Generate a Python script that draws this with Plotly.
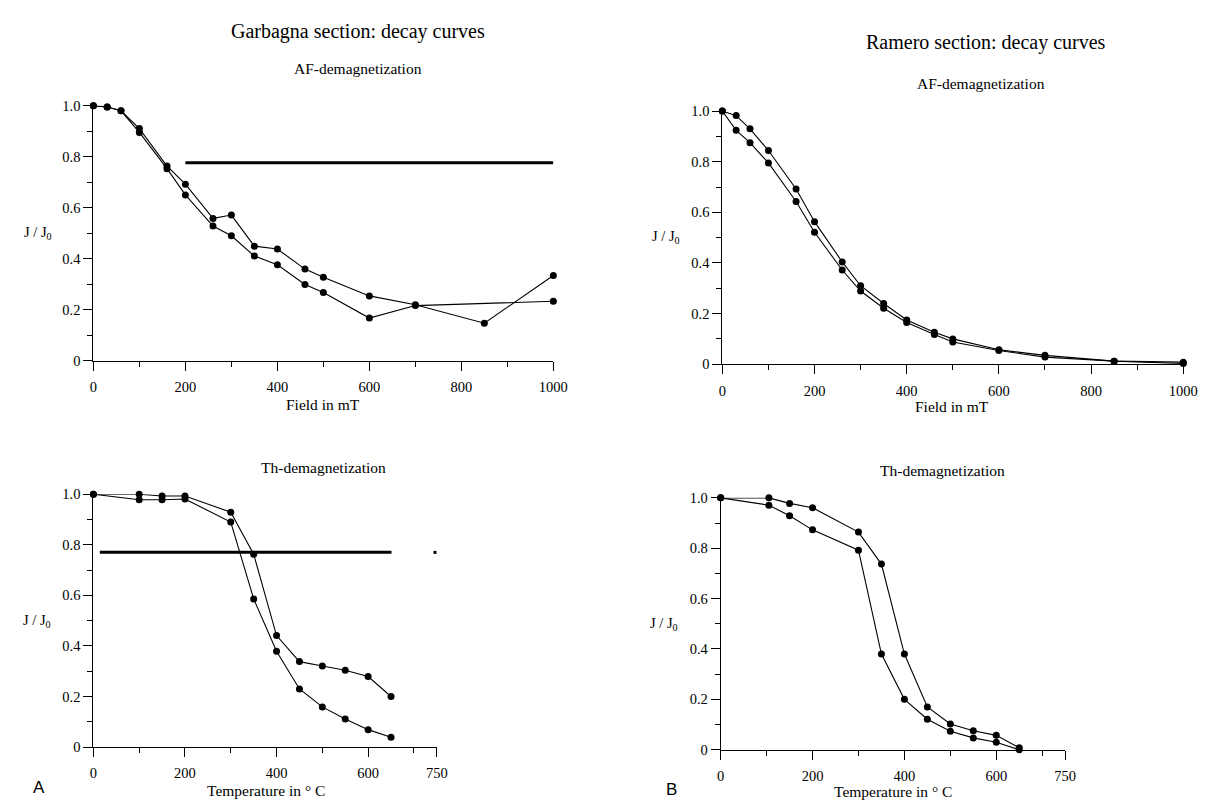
import plotly.graph_objects as go

# ---------------- data ----------------
# Garbagna AF
g_af_x1 = [0, 30, 60, 100, 160, 200, 260, 300, 350, 400, 460, 500, 600, 700, 850, 1000]
g_af_y1 = [1.0, 0.995, 0.98, 0.91, 0.763, 0.692, 0.558, 0.571, 0.449, 0.438, 0.359, 0.327, 0.254, 0.219, 0.147, 0.334]
g_af_x2 = [0, 30, 60, 100, 160, 200, 260, 300, 350, 400, 460, 500, 600, 700, 1000]
g_af_y2 = [1.0, 0.995, 0.98, 0.895, 0.753, 0.65, 0.528, 0.49, 0.41, 0.376, 0.299, 0.267, 0.167, 0.216, 0.233]
g_af_bar_x = [200, 1000]
g_af_bar_y = [0.776, 0.776]

# Garbagna Th
g_th_x = [0, 100, 150, 200, 300, 350, 400, 450, 500, 550, 600, 650]
g_th_y1 = [1.0, 1.0, 0.993, 0.993, 0.929, 0.763, 0.441, 0.338, 0.321, 0.304, 0.279, 0.2]
g_th_y2 = [1.0, 0.978, 0.978, 0.981, 0.89, 0.586, 0.379, 0.23, 0.159, 0.111, 0.069, 0.039]
g_th_bar_x = [14, 651]
g_th_bar_y = [0.771, 0.771]
g_th_dot_x = [746]
g_th_dot_y = [0.77]

# Ramero AF
r_af_x = [0, 30, 60, 100, 160, 200, 260, 300, 350, 400, 460, 500, 600, 700, 850, 1000]
r_af_y1 = [1.0, 0.982, 0.93, 0.844, 0.692, 0.563, 0.404, 0.31, 0.24, 0.175, 0.126, 0.1, 0.057, 0.035, 0.012, 0.008]
r_af_y2 = [1.0, 0.924, 0.875, 0.795, 0.643, 0.521, 0.372, 0.289, 0.221, 0.165, 0.117, 0.088, 0.054, 0.028, 0.012, 0.003]

# Ramero Th
r_th_x = [0, 105, 150, 200, 300, 350, 400, 450, 500, 550, 600, 650]
r_th_y1 = [1.0, 1.0, 0.978, 0.961, 0.864, 0.737, 0.38, 0.17, 0.102, 0.075, 0.057, 0.008]
r_th_y2 = [1.0, 0.971, 0.929, 0.873, 0.792, 0.38, 0.2, 0.121, 0.073, 0.047, 0.03, 0.0]

y_tickvals = [0, 0.2, 0.4, 0.6, 0.8, 1.0]
y_ticktext = ["0", "0.2", "0.4", "0.6", "0.8", "1.0"]
af_tickvals = [0, 200, 400, 600, 800, 1000]
th_tickvals = [0, 200, 400, 600, 750]

# ---------------- figure ----------------
W, H = 1207, 800
FONT = "Liberation Serif"
fig = go.Figure()

def px_x(p):
    return p / W

def px_y(p):
    return 1 - p / H

line_style = dict(color="black", width=1.1)
mk = dict(color="black", size=7, symbol="circle")

def add_series(x, y, ax):
    fig.add_trace(go.Scatter(x=x, y=y, mode="lines+markers", line=line_style,
                             marker=mk, xaxis="x" + ax, yaxis="y" + ax,
                             cliponaxis=False, showlegend=False, hoverinfo="skip"))

def add_bar(x, y, ax):
    fig.add_trace(go.Scatter(x=x, y=y, mode="lines", line=dict(color="black", width=3),
                             xaxis="x" + ax, yaxis="y" + ax, cliponaxis=False,
                             showlegend=False, hoverinfo="skip"))

add_series(g_af_x1, g_af_y1, "")
add_series(g_af_x2, g_af_y2, "")
add_bar(g_af_bar_x, g_af_bar_y, "")

add_series(g_th_x, g_th_y1, "2")
add_series(g_th_x, g_th_y2, "2")
add_bar(g_th_bar_x, g_th_bar_y, "2")
fig.add_trace(go.Scatter(x=g_th_dot_x, y=g_th_dot_y, mode="markers",
                         marker=dict(color="black", size=3, symbol="square"),
                         xaxis="x2", yaxis="y2", cliponaxis=False, showlegend=False,
                         hoverinfo="skip"))

add_series(r_af_x, r_af_y1, "3")
add_series(r_af_x, r_af_y2, "3")

add_series(r_th_x, r_th_y1, "4")
add_series(r_th_x, r_th_y2, "4")

tickfont = dict(family=FONT, size=14.5, color="black")

def xax(domain, anchor, rng, tickvals):
    return dict(domain=domain, anchor=anchor, range=rng, showgrid=False, zeroline=False,
                showline=True, linecolor="black", linewidth=1, ticks="outside",
                ticklen=9, tickcolor="black", tickwidth=1, tickvals=tickvals,
                ticktext=[str(v) for v in tickvals], tickfont=tickfont,
                ticklabelstandoff=4,
                minor=dict(dtick=100, tick0=0, ticks="outside", ticklen=5,
                           tickcolor="black", tickwidth=1, showgrid=False))

def yax(domain, anchor):
    return dict(domain=domain, anchor=anchor, range=[0, 1.0], showgrid=False,
                zeroline=False, showline=True, linecolor="black", linewidth=1,
                ticks="outside", ticklen=9, tickcolor="black", tickwidth=1,
                tickvals=y_tickvals, ticktext=y_ticktext, tickfont=tickfont,
                minor=dict(dtick=0.1, tick0=0, ticks="outside", ticklen=5,
                           tickcolor="black", tickwidth=1, showgrid=False))

# pixel geometry of each panel (x0 px, x_end px, y0 px (value 0), y1 px (value 1))
pA = (82.7, 550.0, 351.7, 91.5)
pAt = (82.7, 431.6, 746.0, 488.0)
pB = (721.7, 1190.0, 355.3, 97.0)
pBt = (720.0, 1070.0, 748.7, 491.7)

def dom(p):
    return [px_x(p[0]), px_x(p[1])], [px_y(p[2]), px_y(p[3])]

dA = dom(pA); dAt = dom(pAt); dB = dom(pB); dBt = dom(pBt)

fig.update_layout(
    width=W, height=H, margin=dict(l=0, r=0, t=0, b=0),
    paper_bgcolor="white", plot_bgcolor="white",
    font=dict(family=FONT, color="black"),
    xaxis=xax(dA[0], "y", [0, 1000], af_tickvals),
    yaxis=yax(dA[1], "x"),
    xaxis2=xax(dAt[0], "y2", [0, 750], th_tickvals),
    yaxis2=yax(dAt[1], "x2"),
    xaxis3=xax(dB[0], "y3", [0, 1000], af_tickvals),
    yaxis3=yax(dB[1], "x3"),
    xaxis4=xax(dBt[0], "y4", [0, 750], th_tickvals),
    yaxis4=yax(dBt[1], "x4"),
)

ann = []
def text(t, x, y, size, family=FONT, xanchor="center"):
    ann.append(dict(text=t, x=px_x(x), y=px_y(y), xref="paper", yref="paper",
                    showarrow=False, xanchor=xanchor, yanchor="middle",
                    font=dict(family=family, size=size, color="black")))

text("Garbagna section: decay curves", 352, 16, 20)
text("AF-demagnetization", 352, 54, 15.5)
text("Ramero section: decay curves", 990, 27, 20)
text("AF-demagnetization", 985, 69, 15.5)
text("Th-demagnetization", 316, 461, 15.5)
text("Th-demagnetization", 945, 464, 15.5)

text("J / J<sub>0</sub>", 26, 221, 14.5)
text("J / J<sub>0</sub>", 664, 226, 14.5)
text("J / J<sub>0</sub>", 25, 617, 14.5)
text("J / J<sub>0</sub>", 662, 620, 14.5)

text("Field in mT", 316, 396, 15.5)
text("Field in mT", 955, 398, 15.5)
text("Temperature in ° C", 258, 790, 15.5)
text("Temperature in ° C", 895, 791, 15.5)

text("A", 27, 787, 17, family="Liberation Sans")
text("B", 670, 789, 17, family="Liberation Sans")

fig.update_layout(annotations=ann)
fig.write_html("out.html")
